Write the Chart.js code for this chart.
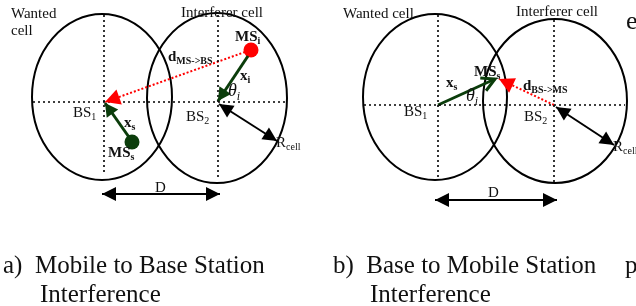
<!DOCTYPE html>
<html>
<head>
<meta charset="utf-8">
<script src="https://cdn.jsdelivr.net/npm/chart.js"></script>
<style>
  html, body { margin: 0; padding: 0; background: #fff; }
  #wrap { width: 636px; height: 306px; }
</style>
</head>
<body>
<div id="wrap"><canvas id="diagram" width="636" height="306"></canvas></div>
<script>
// cells: centre x, centre y, half width, half height (diagram units)
const cells = [[102, 97, 70, 83], [217, 98, 70, 85], [435, 97, 72, 83], [555, 101, 72, 82]];

// dotted cross hairs through the base stations
const crossHairs = [
  [[33, 102], [287, 102]], [[104, 15], [104, 173]], [[218, 15], [218, 177]],
  [[364, 105], [625, 105]], [[438, 15], [438, 180]], [[554, 20], [554, 182]]
];

// mobile stations drawn as dots (panel a)
const mobileServing = [[132, 142]];
const mobileInterferer = [[251, 50]];

// position vectors x_s, x_i
const greenVectors = [
  [[131, 140], [105, 103]],
  [[248, 56], [218, 101]],
  [[438, 105], [495, 79]]
];
// interference paths d
const redPaths = [
  [[245, 52], [105, 102]],
  [[554, 105], [499, 79]]
];
// R_cell and D spans
const blackSpans = [
  [[219, 104], [277, 141]],
  [[102, 194], [220, 194]],
  [[556, 107], [614, 145]],
  [[435, 200], [557, 200]]
];

// text, subscript, x, y, size, style (b = bold, i = italic)
const labels = [
  ['Wanted', '', 11, 14, 15, ''],
  ['cell', '', 11, 31, 15, ''],
  ['Interferer cell', '', 181, 13, 15, ''],
  ['BS', '1', 73, 113, 15, ''],
  ['BS', '2', 186, 117, 15, ''],
  ['MS', 'i', 235, 37, 15, 'b'],
  ['x', 'i', 240, 76, 15, 'b'],
  ['\u03b8', 'i', 228, 91, 18, 'i'],
  ['d', 'MS->BS', 168, 57, 15, 'b'],
  ['x', 's', 124, 123, 15, 'b'],
  ['MS', 's', 108, 153, 15, 'b'],
  ['R', 'cell', 276, 143, 15, ''],
  ['D', '', 155, 188, 15, ''],
  ['Wanted cell', '', 343, 14, 15, ''],
  ['Interferer cell', '', 516, 12, 15, ''],
  ['BS', '1', 404, 112, 15, ''],
  ['BS', '2', 524, 117, 15, ''],
  ['MS', 's', 474, 72, 15, 'b'],
  ['x', 's', 446, 83, 15, 'b'],
  ['\u03b8', 'i', 466, 96, 18, 'i'],
  ['d', 'BS->MS', 523, 86, 15, 'b'],
  ['R', 'cell', 613, 147, 15, ''],
  ['D', '', 488, 193, 15, ''],
  ['e', '', 626, 22, 26, ''],
  ['a)  Mobile to Base Station', '', 3, 266, 25, ''],
  ['Interference', '', 40, 295, 25, ''],
  ['b)  Base to Mobile Station', '', 333, 266, 25, ''],
  ['Interference', '', 370, 295, 25, ''],
  ['p', '', 625, 266, 25, '']
];

const GREEN = '#0b3d0b';
const RED = '#ff0000';
const FONT = '"Liberation Serif", "Times New Roman", serif';

const pts = arr => arr.map(([x, y]) => ({ x, y }));

const datasets = [];
crossHairs.forEach(seg => datasets.push({
  data: pts(seg), showLine: true, borderColor: '#000', borderWidth: 1.6,
  borderDash: [2, 3], pointRadius: 0
}));
greenVectors.forEach((seg, i) => datasets.push({
  data: pts(seg), showLine: true, borderColor: GREEN, borderWidth: 3, pointRadius: 0,
  head: 'end', headColor: GREEN, headLen: 13, headHalf: 7, openHead: i === 2
}));
redPaths.forEach(seg => datasets.push({
  data: pts(seg), showLine: true, borderColor: RED, borderWidth: 2,
  borderDash: [2, 2], pointRadius: 0,
  head: 'end', headColor: RED, headLen: 15, headHalf: 8
}));
blackSpans.forEach(seg => datasets.push({
  data: pts(seg), showLine: true, borderColor: '#000', borderWidth: 2, pointRadius: 0,
  head: 'both', headColor: '#000', headLen: 14, headHalf: 7
}));
datasets.push({ data: pts(mobileServing), pointRadius: 7.5, backgroundColor: GREEN, borderWidth: 0 });
datasets.push({ data: pts(mobileInterferer), pointRadius: 7.5, backgroundColor: RED, borderWidth: 0 });

function drawHead(ctx, from, to, len, half, color, open) {
  const a = Math.atan2(to.y - from.y, to.x - from.x);
  const bx = to.x - len * Math.cos(a), by = to.y - len * Math.sin(a);
  const nx = -Math.sin(a) * half, ny = Math.cos(a) * half;
  ctx.save();
  ctx.fillStyle = color;
  ctx.strokeStyle = color;
  ctx.beginPath();
  if (open) {
    ctx.lineWidth = 3;
    ctx.moveTo(bx + nx, by + ny);
    ctx.lineTo(to.x, to.y);
    ctx.lineTo(bx - nx, by - ny);
    ctx.stroke();
  } else {
    ctx.moveTo(to.x, to.y);
    ctx.lineTo(bx + nx, by + ny);
    ctx.lineTo(bx - nx, by - ny);
    ctx.closePath();
    ctx.fill();
  }
  ctx.restore();
}

const diagramPlugin = {
  id: 'diagram',
  beforeDraw(chart) {
    const ctx = chart.ctx;
    ctx.save();
    ctx.fillStyle = '#fff';
    ctx.fillRect(0, 0, chart.width, chart.height);
    ctx.restore();
  },
  beforeDatasetsDraw(chart) {
    const { ctx, scales: { x, y } } = chart;
    ctx.save();
    ctx.strokeStyle = '#000';
    ctx.lineWidth = 2;
    cells.forEach(([cx, cy, rx, ry]) => {
      const px = x.getPixelForValue(cx), py = y.getPixelForValue(cy);
      const w = Math.abs(x.getPixelForValue(cx + rx) - px);
      const h = Math.abs(y.getPixelForValue(cy + ry) - py);
      ctx.beginPath();
      ctx.ellipse(px, py, w, h, 0, 0, Math.PI * 2);
      ctx.stroke();
    });
    ctx.restore();
  },
  afterDatasetsDraw(chart) {
    const { ctx, scales: { x, y } } = chart;
    chart.data.datasets.forEach(ds => {
      if (!ds.head) return;
      const p0 = { x: x.getPixelForValue(ds.data[0].x), y: y.getPixelForValue(ds.data[0].y) };
      const p1 = { x: x.getPixelForValue(ds.data[1].x), y: y.getPixelForValue(ds.data[1].y) };
      drawHead(ctx, p0, p1, ds.headLen, ds.headHalf, ds.headColor, ds.openHead);
      if (ds.head === 'both') drawHead(ctx, p1, p0, ds.headLen, ds.headHalf, ds.headColor, false);
    });

    ctx.save();
    ctx.fillStyle = '#111';
    ctx.textBaseline = 'middle';
    ctx.textAlign = 'left';
    labels.forEach(([text, sub, lx, ly, size, style]) => {
      const px = x.getPixelForValue(lx), py = y.getPixelForValue(ly);
      const b = style.includes('b') ? 'bold ' : '';
      const it = style.includes('i') ? 'italic ' : '';
      ctx.font = `${it}${b}${size}px ${FONT}`;
      ctx.fillText(text, px, py);
      if (sub) {
        const w = ctx.measureText(text).width;
        const s = Math.round(size * 0.65);
        ctx.font = `${it}${b}${s}px ${FONT}`;
        ctx.fillText(sub, px + w, py + size * 0.3);
      }
    });
    ctx.restore();
  }
};

new Chart(document.getElementById('diagram'), {
  type: 'scatter',
  data: { datasets },
  options: {
    responsive: false,
    animation: false,
    events: [],
    layout: { padding: 0, autoPadding: false },
    plugins: { legend: { display: false }, tooltip: { enabled: false } },
    scales: {
      x: { type: 'linear', min: 0, max: 636, display: false },
      y: { type: 'linear', min: 0, max: 306, reverse: true, display: false }
    }
  },
  plugins: [diagramPlugin]
});
</script>
</body>
</html>
